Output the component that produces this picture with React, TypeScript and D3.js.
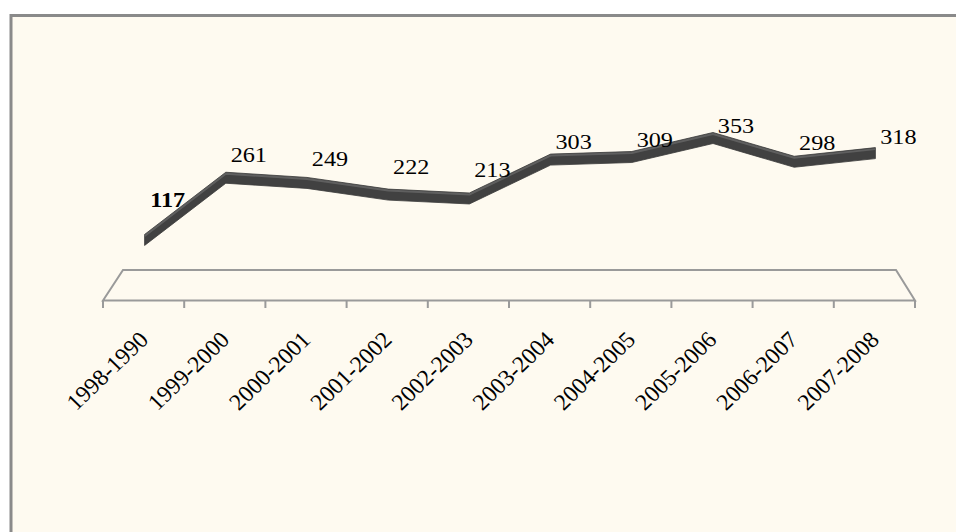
import React from 'react';
import * as d3 from 'd3';

const categories = [
  '1998-1990',
  '1999-2000',
  '2000-2001',
  '2001-2002',
  '2002-2003',
  '2003-2004',
  '2004-2005',
  '2005-2006',
  '2006-2007',
  '2007-2008',
];
const values = [117, 261, 249, 222, 213, 303, 309, 353, 298, 318];
const valueDomain = [0, 400];

const W = 956;
const H = 532;

// floor of the 3d plot (front edge, back edge)
const floor = { frontY: 300.5, backY: 270, frontL: 103, frontR: 915, backL: 123, backR: 896 };

export default function App() {
  const x = d3
    .scaleBand<string>()
    .domain(categories)
    .range([floor.frontL, floor.frontR])
    .padding(0);

  const y = d3.scaleLinear().domain(valueDomain).range([290.5, 117.7]);
  // labels sit on a flatter projected plane
  const labelY = d3.scaleLinear().domain(valueDomain).range([244, 118]);

  const cx = (c: string) => (x(c) as number) + x.bandwidth() / 2 + 1;
  const pts = categories.map((c, i) => ({ c, v: values[i] }));
  const half = 5.5;

  const ribbon = d3
    .area<{ c: string; v: number }>()
    .x((d) => cx(d.c))
    .y0((d) => y(d.v) + half)
    .y1((d) => y(d.v) - half)(pts);

  const topEdge = d3
    .line<{ c: string; v: number }>()
    .x((d) => cx(d.c))
    .y((d) => y(d.v) - half + 1.5)(pts);

  const floorPath = `M${floor.frontL},${floor.frontY}L${floor.backL},${floor.backY}L${floor.backR},${floor.backY}L${floor.frontR},${floor.frontY}Z`;

  const ticks = [...categories.map((c) => x(c) as number), floor.frontR];

  return (
    <svg
      width={W}
      height={H}
      style={{ position: 'absolute', left: 0, top: 0, background: '#fff' }}
      fontFamily="'Liberation Serif', 'Times New Roman', serif"
    >
      <rect x={11} y={15.5} width={1000} height={600} fill="#fefaf0" stroke="#8a8a8a" strokeWidth={3} />

      <path d={floorPath} fill="none" stroke="#9a9a9a" strokeWidth={2} />
      {ticks.map((t, i) => (
        <line key={i} x1={t} x2={t} y1={floor.frontY} y2={floor.frontY + 7.5} stroke="#9a9a9a" strokeWidth={2} />
      ))}

      <path d={ribbon as string} fill="#414141" stroke="#3a3a3a" strokeWidth={0.8} strokeLinejoin="round" />
      <path d={topEdge as string} fill="none" stroke="#666" strokeWidth={2} opacity={0.8} />

      {pts.map((d, i) => (
        <text
          key={d.c}
          transform={`translate(${cx(d.c) + 23},${labelY(d.v)}) scale(1.1,1)`}
          textAnchor="middle"
          fontSize={22}
          fontWeight={i === 0 ? 'bold' : 'normal'}
          fill="#000"
        >
          {d.v}
        </text>
      ))}

      {categories.map((c) => (
        <text
          key={c}
          transform={`translate(${cx(c) + 5},341) scale(1.04,1) rotate(-45)`}
          textAnchor="end"
          fontSize={23}
          fill="#000"
        >
          {c}
        </text>
      ))}
    </svg>
  );
}
